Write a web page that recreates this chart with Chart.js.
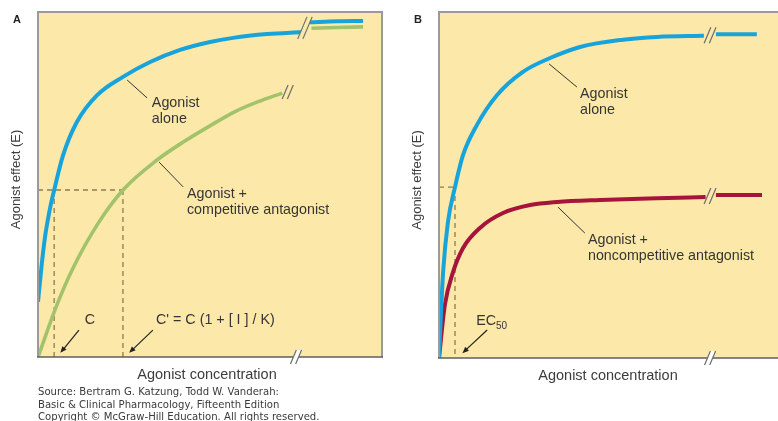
<!DOCTYPE html>
<html lang="en">
<head>
<meta charset="UTF-8">
<title>Agonist concentration-effect curves</title>
<script src="https://cdn.jsdelivr.net/npm/chart.js"></script>
<style>
  body { margin: 0; width: 778px; height: 421px; overflow: hidden; background: #fff; position: relative; }
  canvas { position: absolute; top: 0; }
  #chartA { left: 0; }
  #chartB { left: 390px; }
</style>
</head>
<body>
<canvas id="chartA" width="390" height="421"></canvas>
<canvas id="chartB" width="400" height="421"></canvas>
<script>
// values, x = agonist concentration, y = effect (0-100 of the frame)
// panel A
const aAloneX = [0, 0.5, 1.1, 2, 3, 3.7, 4.7, 7.3, 11.3, 17.2, 24.7, 32.6, 41.3, 50, 56.7, 66.6, 76.7];
const aAloneY = [16, 21, 27, 34.5, 40.5, 44.1, 48.4, 58.5, 68.1, 75.9, 81.2, 85.5, 89, 91.3, 92.5, 93.6, 94.2];
const aAloneHighX = [79, 87, 94.5];
const aAloneHighY = [97, 97.3, 97.4];
const aCompX = [0, 5.5, 10.2, 17.2, 24.7, 34.6, 42.2, 50, 57, 64, 71];
const aCompY = [0, 15.1, 25.8, 38.3, 48.4, 57.1, 62.3, 67, 71, 74, 76.5];
const aCompHighX = [79.5, 87, 94.5];
const aCompHighY = [95.3, 95.5, 95.7];
const aHalf = 48.4;          // half-maximal effect
const aDoses = [4.7, 24.7];  // C and C'

// panel B
const bAloneX = [0, 0.3, 1.2, 2.6, 4.65, 7, 11, 16.9, 24.4, 32.3, 41, 53.5, 63.4, 77];
const bAloneY = [0, 7.2, 24.9, 39.3, 49.4, 58.7, 67.3, 76, 82.7, 86.7, 89.9, 92, 92.8, 93.1];
const bAloneHighX = [80.5, 87, 92.4];
const bAloneHighY = [93.6, 93.6, 93.6];
const bNonX = [0, 1.7, 4.1, 7, 11.9, 18.6, 26.5, 34.3, 46.8, 63.4, 77.5];
const bNonY = [0, 15.3, 24.9, 31.8, 37.6, 41.9, 44.2, 45.1, 45.7, 46.2, 46.5];
const bNonHighX = [80.5, 87, 93.9];
const bNonHighY = [47.1, 47.1, 47.1];
const bHalf = 49.4;
const bDoses = [4.65];       // EC50

const PAPER = '#fce9a9';
const BLUE = '#19a3db';
const GREEN = '#a2c36b';
const RED = '#a6143b';
const DASH = '#8c7c50';
const INK = '#353535';
const FONT = '"Liberation Sans", Arial, sans-serif';

function pts(xs, ys) {
  return xs.map((x, i) => ({ x: x, y: ys[i] }));
}

function curve(label, xs, ys, color, width) {
  return {
    label: label,
    data: pts(xs, ys),
    borderColor: color,
    borderWidth: width,
    pointRadius: 0,
    cubicInterpolationMode: 'monotone',
    borderCapStyle: 'butt',
    fill: false
  };
}

function slashes(ctx, px, py, half, bg) {
  const dx = half * 0.42, g = 2.6;
  ctx.fillStyle = bg;
  ctx.beginPath();
  ctx.moveTo(px - dx - g, py + half);
  ctx.lineTo(px + dx - g, py - half);
  ctx.lineTo(px + dx + g, py - half);
  ctx.lineTo(px - dx + g, py + half);
  ctx.closePath();
  ctx.fill();
  ctx.strokeStyle = '#6d6d6d';
  ctx.lineWidth = 1.2;
  ctx.beginPath();
  ctx.moveTo(px - dx - g, py + half); ctx.lineTo(px + dx - g, py - half);
  ctx.moveTo(px - dx + g, py + half); ctx.lineTo(px + dx + g, py - half);
  ctx.stroke();
}

function arrow(ctx, x1, y1, x2, y2) {
  const ang = Math.atan2(y2 - y1, x2 - x1), s = 7;
  ctx.strokeStyle = '#222'; ctx.fillStyle = '#222'; ctx.lineWidth = 1.2;
  ctx.beginPath(); ctx.moveTo(x1, y1); ctx.lineTo(x2 - Math.cos(ang) * 4, y2 - Math.sin(ang) * 4); ctx.stroke();
  ctx.beginPath();
  ctx.moveTo(x2, y2);
  ctx.lineTo(x2 - s * Math.cos(ang - 0.4), y2 - s * Math.sin(ang - 0.4));
  ctx.lineTo(x2 - s * Math.cos(ang + 0.4), y2 - s * Math.sin(ang + 0.4));
  ctx.closePath(); ctx.fill();
}

function panelPlugin(opt) {
  return {
    id: 'panel' + opt.letter,
    beforeDatasetsDraw(chart) {
      const { ctx, chartArea: a, scales: { x, y } } = chart;
      ctx.save();
      ctx.fillStyle = PAPER;
      ctx.fillRect(a.left, a.top, a.right - a.left, a.bottom - a.top);
      ctx.strokeStyle = DASH; ctx.lineWidth = 1.3; ctx.setLineDash([5, 4]);
      const hy = y.getPixelForValue(opt.half);
      ctx.beginPath();
      ctx.moveTo(a.left, hy);
      ctx.lineTo(x.getPixelForValue(Math.max(...opt.doses)), hy);
      opt.doses.forEach(c => {
        ctx.moveTo(x.getPixelForValue(c), hy);
        ctx.lineTo(x.getPixelForValue(c), a.bottom);
      });
      ctx.stroke();
      ctx.restore();
    },
    afterDatasetsDraw(chart) {
      const { ctx, chartArea: a, scales: { x, y } } = chart;
      const px = v => x.getPixelForValue(v), py = v => y.getPixelForValue(v);
      ctx.save();
      // frame
      ctx.strokeStyle = '#9a9a9a'; ctx.lineWidth = 2;
      ctx.beginPath();
      ctx.moveTo(a.left, a.bottom); ctx.lineTo(a.left, a.top);
      ctx.lineTo(a.right, a.top); ctx.lineTo(a.right, a.bottom);
      ctx.stroke();
      ctx.strokeStyle = '#5e5e5e'; ctx.lineWidth = 1.6;
      ctx.beginPath(); ctx.moveTo(a.left - 1, a.bottom); ctx.lineTo(a.right + 1, a.bottom); ctx.stroke();

      // breaks
      slashes(ctx, px(opt.axisBreak), a.bottom, 7, '#ffffff');
      opt.breaks.forEach(b => slashes(ctx, px(b[0]), py(b[1]), b[2], PAPER));

      // leader lines
      ctx.strokeStyle = '#333'; ctx.lineWidth = 1;
      ctx.beginPath();
      opt.leaders.forEach(l => { ctx.moveTo(px(l[0]), py(l[1])); ctx.lineTo(px(l[2]), py(l[3])); });
      ctx.stroke();
      opt.arrows.forEach(l => arrow(ctx, px(l[0]), py(l[1]), px(l[2]), py(l[3])));

      // labels
      ctx.fillStyle = INK; ctx.font = '14.3px ' + FONT;
      ctx.textAlign = 'left'; ctx.textBaseline = 'middle';
      opt.labels.forEach(t => {
        t[2].forEach((line, i) => ctx.fillText(line, px(t[0]), py(t[1]) + i * 16));
      });
      if (opt.sub) {
        const s = opt.sub;
        ctx.fillText(s[2], px(s[0]), py(s[1]));
        const w = ctx.measureText(s[2]).width;
        ctx.font = '10px ' + FONT;
        ctx.fillText(s[3], px(s[0]) + w, py(s[1]) + 5);
      }

      // axis titles
      ctx.fillStyle = '#3c3c3c';
      ctx.font = '14.5px ' + FONT; ctx.textAlign = 'center';
      ctx.fillText('Agonist concentration', (a.left + a.right) / 2 - 3, a.bottom + 18);
      ctx.save();
      ctx.translate(a.left - 22, (a.top + a.bottom) / 2 - 5);
      ctx.rotate(-Math.PI / 2);
      ctx.font = '13px ' + FONT;
      ctx.fillText('Agonist effect (E)', 0, 0);
      ctx.restore();

      ctx.fillStyle = '#222'; ctx.font = 'bold 11px ' + FONT; ctx.textAlign = 'left';
      ctx.fillText(opt.letter, a.left - 25, a.top + 8);

      if (opt.source) {
        ctx.fillStyle = '#3a3a3a'; ctx.font = '10.1px "DejaVu Sans", sans-serif';
        ctx.textBaseline = 'alphabetic';
        opt.source.forEach((line, i) => ctx.fillText(line, a.left, a.bottom + 38 + i * 12.6));
      }
      ctx.restore();
    }
  };
}

function makeChart(id, datasets, plugin, pad) {
  return new Chart(document.getElementById(id), {
    type: 'line',
    data: { datasets: datasets },
    options: {
      responsive: false,
      animation: false,
      layout: { padding: pad },
      plugins: { legend: { display: false }, tooltip: { enabled: false } },
      scales: {
        x: { type: 'linear', min: 0, max: 100, display: false },
        y: { min: 0, max: 100, display: false }
      }
    },
    plugins: [plugin]
  });
}

const chartA = makeChart('chartA', [
  curve('Agonist alone', aAloneX, aAloneY, BLUE, 4),
  curve('Agonist alone', aAloneHighX, aAloneHighY, BLUE, 4),
  curve('Agonist + competitive antagonist', aCompX, aCompY, GREEN, 3.6),
  curve('Agonist + competitive antagonist', aCompHighX, aCompHighY, GREEN, 3.6)
], panelPlugin({
  letter: 'A',
  half: aHalf,
  doses: aDoses,
  axisBreak: 75,
  breaks: [[77.6, 95.4, 11], [72.6, 76.8, 7]],
  leaders: [[25.9, 80.3, 31.7, 75.1], [35.2, 56.5, 42.2, 49.3]],
  arrows: [[11.9, 7.8, 6.5, 1.2], [33.4, 7.8, 26.5, 1.2]],
  labels: [
    [33.1, 73.5, ['Agonist', 'alone']],
    [43.3, 47.2, ['Agonist +', 'competitive antagonist']],
    [13.6, 10.7, ['C']],
    [34.3, 10.6, ["C' = C (1 + [ I ] / K)"]]
  ],
  source: [
    'Source: Bertram G. Katzung, Todd W. Vanderah:',
    'Basic & Clinical Pharmacology, Fifteenth Edition',
    'Copyright \u00A9 McGraw-Hill Education. All rights reserved.'
  ]
}), { left: 38, right: 8, top: 12, bottom: 64 });

const chartB = makeChart('chartB', [
  curve('Agonist alone', bAloneX, bAloneY, BLUE, 4),
  curve('Agonist alone', bAloneHighX, bAloneHighY, BLUE, 4),
  curve('Agonist + noncompetitive antagonist', bNonX, bNonY, RED, 4),
  curve('Agonist + noncompetitive antagonist', bNonHighX, bNonHighY, RED, 4)
], panelPlugin({
  letter: 'B',
  half: bHalf,
  doses: bDoses,
  axisBreak: 78.8,
  breaks: [[78.8, 93.3, 8], [78.8, 46.8, 8]],
  leaders: [[32, 85, 40.1, 78.3], [34.6, 43.6, 42.4, 36.1]],
  arrows: [[14, 8.1, 6.8, 1.4]],
  labels: [
    [41, 76.3, ['Agonist', 'alone']],
    [43.3, 34.1, ['Agonist +', 'noncompetitive antagonist']]
  ],
  sub: [10.8, 10.7, 'EC', '50']
}), { left: 49, right: 7, top: 12, bottom: 63 });
</script>
</body>
</html>
